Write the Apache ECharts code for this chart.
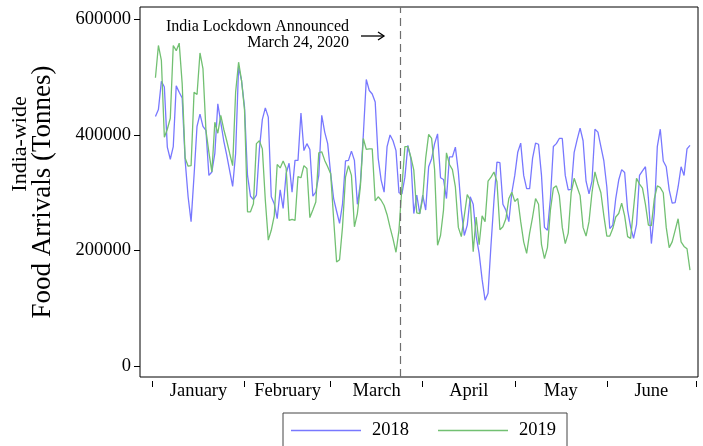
<!DOCTYPE html>
<html>
<head>
<meta charset="utf-8">
<script src="https://cdn.jsdelivr.net/npm/echarts@6/dist/echarts.min.js"></script>
<style>
  html, body { margin: 0; padding: 0; background: #fff; }
  #chart { width: 703px; height: 446px; }
</style>
</head>
<body>
<div id="chart"></div>
<script>
const serif = "'Liberation Serif', 'Times New Roman', serif"

const monthNames = ['January', 'February', 'March', 'April', 'May', 'June']
// day index of month boundaries and month label positions (index 0 = first day of data)
const monthTicks = [-1, 30, 59, 90, 121, 152, 182]
const monthCenters = [14.5, 44.5, 74.5, 105.5, 136.5, 167]
const yTicks = [0, 200000, 400000, 600000]
const lockdownDay = 82.6

// daily arrivals, thousand tonnes
const arrivals2018 = [
  432, 444, 493, 483, 379, 358, 380, 485, 474, 464,
  356, 293, 250, 330, 415, 436, 415, 408, 330, 336,
  368, 454, 422, 390, 365, 338, 311, 368, 518, 494,
  448, 330, 294, 288, 296, 375, 427, 447, 431, 293,
  281, 255, 305, 273, 333, 351, 301, 356, 356, 438,
  373, 385, 375, 294, 301, 330, 434, 405, 385, 333,
  290, 268, 247, 281, 355, 356, 372, 356, 280, 316,
  400, 496, 477, 471, 457, 360, 322, 301, 380, 400,
  390, 373, 300, 298, 327, 382, 359, 264, 296, 264,
  296, 270, 345, 359, 385, 402, 326, 323, 290, 362,
  362, 379, 336, 270, 226, 244, 293, 280, 225, 195,
  150, 114, 126, 210, 287, 353, 352, 280, 270, 250,
  300, 330, 370, 386, 330, 307, 307, 360, 386, 384,
  330, 240, 235, 290, 380, 385, 394, 394, 330, 305,
  306, 370, 392, 412, 390, 320, 298, 320, 410, 405,
  380, 355, 310, 238, 244, 290, 322, 340, 335, 270,
  241, 221, 245, 330, 338, 345, 290, 212, 265, 380,
  410, 355, 345, 305, 282, 283, 310, 345, 330, 376,
  382
]
const arrivals2019 = [
  499, 555, 529, 396, 410, 429, 555, 546, 559, 489,
  360, 346, 347, 474, 470, 542, 515, 408, 370, 336,
  422, 403, 434, 410, 390, 368, 347, 474, 526, 494,
  443, 267, 267, 281, 385, 390, 376, 287, 218, 235,
  260, 349, 343, 355, 343, 252, 254, 252, 328, 326,
  347, 342, 257, 270, 284, 369, 371, 356, 345, 333,
  255, 180, 184, 241, 327, 347, 330, 241, 264, 310,
  394, 375, 376, 376, 286, 293, 287, 278, 262, 240,
  220, 197, 235, 310, 380, 380, 362, 339, 265, 264,
  290, 360, 401, 394, 340, 209, 226, 270, 369, 349,
  340, 310, 240, 224, 260, 297, 287, 198, 258, 210,
  260, 250, 320, 327, 336, 319, 236, 241, 255, 290,
  301, 285, 290, 250, 215, 195, 230, 258, 290, 280,
  210, 186, 205, 270, 308, 312, 295, 240, 212, 230,
  300, 325, 310, 295, 240, 225, 250, 300, 336, 316,
  300, 260, 225, 225, 238, 258, 264, 282, 260, 224,
  221, 273, 325, 315, 308, 280, 244, 243, 290, 312,
  309, 300, 240, 205, 215, 235, 255, 215, 207, 203,
  166
]

const toPoints = arr => arr.map((v, i) => [i, v * 1000])

const chart = echarts.init(document.getElementById('chart'))
chart.setOption({
  animation: false,
  backgroundColor: '#fff',
  grid: {
    left: 140, right: 5, top: 7, bottom: 69,
    show: true, borderColor: '#000', borderWidth: 1
  },
  xAxis: {
    type: 'value',
    min: -5.2,
    max: 182.7,
    offset: 4,
    axisLine: { show: false, onZero: false },
    splitLine: { show: false },
    axisTick: { customValues: monthTicks, length: 6, lineStyle: { color: '#000' } },
    axisLabel: {
      customValues: monthCenters,
      formatter: v => monthNames[monthCenters.indexOf(v)],
      margin: 1,
      color: '#000',
      fontFamily: serif,
      fontSize: 18.5
    }
  },
  yAxis: {
    type: 'value',
    min: -19000,
    max: 621600,
    axisLine: { show: false, onZero: false },
    splitLine: { show: false },
    axisTick: { customValues: yTicks, length: 6, lineStyle: { color: '#000' } },
    axisLabel: {
      customValues: yTicks,
      formatter: v => String(v),
      margin: 9,
      color: '#000',
      fontFamily: serif,
      fontSize: 18.5
    }
  },
  legend: {
    data: ['2018', '2019'],
    left: 283,
    top: 413,
    icon: 'rect',
    itemWidth: 70,
    itemHeight: 1.3,
    itemGap: 29,
    borderColor: '#444',
    borderWidth: 1,
    padding: [8, 11, 30, 8],
    textStyle: { color: '#000', fontFamily: serif, fontSize: 18.5, padding: [0, 0, 0, 6] }
  },
  graphic: [
    {
      type: 'text',
      x: 20, y: 144,
      rotation: Math.PI / 2,
      style: {
        text: 'India-wide',
        font: '22px ' + serif,
        align: 'center',
        verticalAlign: 'middle',
        fill: '#000'
      }
    },
    {
      type: 'text',
      x: 43, y: 192,
      rotation: Math.PI / 2,
      style: {
        text: 'Food Arrivals (Tonnes)',
        font: '27px ' + serif,
        align: 'center',
        verticalAlign: 'middle',
        fill: '#000'
      }
    },
    {
      type: 'text',
      x: 349, y: 18,
      style: {
        text: 'India Lockdown Announced\nMarch 24, 2020',
        font: '16px ' + serif,
        lineHeight: 16.6,
        align: 'right',
        verticalAlign: 'top',
        fill: '#000'
      }
    },
    {
      type: 'group',
      children: [
        { type: 'line', shape: { x1: 361, y1: 36, x2: 384, y2: 36 }, style: { stroke: '#000', lineWidth: 1.3 } },
        { type: 'polyline', shape: { points: [[378, 32], [384, 36], [378, 40]] }, style: { stroke: '#000', fill: null, lineWidth: 1.3 } }
      ]
    }
  ],
  series: [
    {
      name: '2018',
      type: 'line',
      data: toPoints(arrivals2018),
      showSymbol: false,
      symbol: 'none',
      color: '#7878ff',
      lineStyle: { width: 1.3 }
    },
    {
      name: '2019',
      type: 'line',
      data: toPoints(arrivals2019),
      showSymbol: false,
      symbol: 'none',
      color: '#72c072',
      lineStyle: { width: 1.3 },
      markLine: {
        silent: true,
        symbol: 'none',
        label: { show: false },
        lineStyle: { color: '#6e6e6e', type: [8, 5], width: 1.2 },
        data: [{ xAxis: lockdownDay }]
      }
    }
  ]
})
</script>
</body>
</html>
